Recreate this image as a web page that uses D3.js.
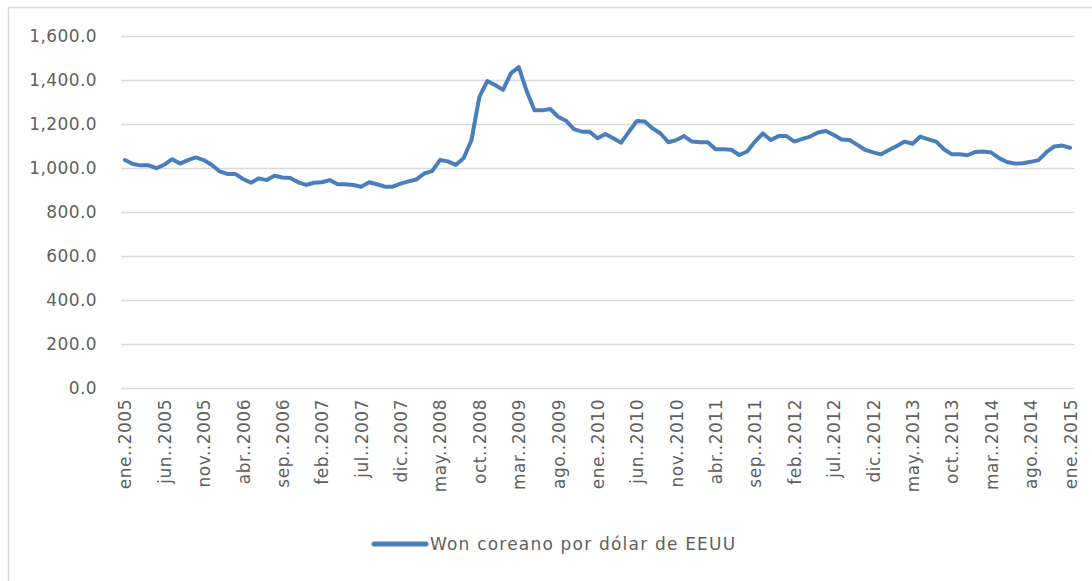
<!DOCTYPE html>
<html>
<head>
<meta charset="utf-8">
<script src="https://cdn.jsdelivr.net/npm/d3@7"></script>
<style>
  body { margin: 0; background: #fff; }
  text { font-family: "DejaVu Sans", sans-serif; fill: #5f5f5f; }
</style>
</head>
<body>
<script>
const width = 1092, height = 581;

const monthNames = ["ene.", "feb.", "mar.", "abr.", "may.", "jun.", "jul.", "ago.", "sep.", "oct.", "nov.", "dic."];
const years = [2005, 2006, 2007, 2008, 2009, 2010, 2011, 2012, 2013, 2014, 2015];

// won coreano por dolar, mensual ene 2005 - ene 2015
const won2005 = [1036, 1018, 1012, 1012, 999, 1015, 1040, 1020, 1036, 1048, 1036, 1015];
const won2006 = [985, 973, 973, 950, 933, 953, 945, 965, 957, 955, 935, 923];
const won2007 = [933, 935, 945, 926, 926, 923, 915, 935, 926, 915, 915, 929];
const won2008 = [939, 948, 975, 986, 1036, 1030, 1014, 1044, 1127, 1323, 1395, 1377];
const won2009 = [1355, 1430, 1459, 1350, 1262, 1262, 1268, 1233, 1215, 1177, 1165, 1165];
const won2010 = [1135, 1155, 1135, 1115, 1165, 1214, 1211, 1180, 1157, 1117, 1127, 1145];
const won2011 = [1120, 1117, 1117, 1085, 1085, 1083, 1059, 1075, 1120, 1157, 1127, 1145];
const won2012 = [1145, 1120, 1132, 1143, 1161, 1168, 1150, 1130, 1127, 1105, 1082, 1071];
const won2013 = [1062, 1082, 1100, 1120, 1110, 1143, 1130, 1120, 1085, 1062, 1062, 1058];
const won2014 = [1073, 1075, 1070, 1045, 1027, 1020, 1022, 1028, 1036, 1072, 1098, 1102];
const won2015 = [1092];

const values = [].concat(won2005, won2006, won2007, won2008, won2009, won2010,
  won2011, won2012, won2013, won2014, won2015);

const labels = values.map((v, i) => monthNames[i % 12] + "." + years[Math.floor(i / 12)]);

const yTicks = [0, 200, 400, 600, 800, 1000, 1200, 1400, 1600];
const seriesName = "Won coreano por dólar de EEUU";

const margin = {top: 36, right: 18, bottom: 193, left: 121};
const plotRight = 1074;

const svg = d3.select("body").append("svg")
    .attr("width", width)
    .attr("height", height);

// marco del grafico
svg.append("rect")
    .attr("x", 8.5).attr("y", 7.5)
    .attr("width", width + 10).attr("height", height + 10)
    .attr("fill", "none")
    .attr("stroke", "#d9d9d9")
    .attr("stroke-width", 1.5);

const x = d3.scalePoint()
    .domain(labels)
    .range([margin.left, plotRight])
    .padding(0.5);

const y = d3.scaleLinear()
    .domain([0, 1600])
    .range([388, margin.top]);

const fmt = d3.format(",.1f");

svg.append("g")
    .attr("transform", `translate(${margin.left},0)`)
    .call(d3.axisLeft(y).tickValues(yTicks).tickFormat(fmt).tickSize(0).tickPadding(24))
    .call(g => g.select(".domain").remove())
    .call(g => g.selectAll(".tick text")
        .attr("font-size", 17)
        .attr("letter-spacing", "0.4px")
        .attr("font-family", "DejaVu Sans, sans-serif")
        .attr("fill", "#5f5f5f"))
    .call(g => g.selectAll(".tick line").clone()
        .attr("x2", plotRight - margin.left)
        .attr("stroke", "#d9d9d9")
        .attr("stroke-width", 1.5));

svg.append("g")
    .attr("transform", "translate(0,388)")
    .call(d3.axisBottom(x)
        .tickValues(labels.filter((d, i) => i % 5 === 0))
        .tickSize(0).tickPadding(0))
    .call(g => g.select(".domain").remove())
    .call(g => g.selectAll(".tick text")
        .attr("font-size", 17)
        .attr("letter-spacing", "0.5px")
        .attr("font-family", "DejaVu Sans, sans-serif")
        .attr("fill", "#5f5f5f")
        .attr("text-anchor", "end")
        .attr("dy", "0.35em")
        .attr("transform", "translate(0,11) rotate(-90)"));

const line = d3.line()
    .x((d, i) => x(labels[i]))
    .y(d => y(d));

svg.append("path")
    .datum(values)
    .attr("fill", "none")
    .attr("stroke", "#4a7ebb")
    .attr("stroke-width", 4)
    .attr("stroke-linejoin", "round")
    .attr("stroke-linecap", "round")
    .attr("d", line);

// leyenda
const legend = svg.append("g").attr("transform", "translate(372,544)");
legend.append("line")
    .attr("x1", 2).attr("x2", 54)
    .attr("stroke", "#4a7ebb")
    .attr("stroke-width", 5)
    .attr("stroke-linecap", "round");
legend.append("text")
    .attr("x", 58)
    .attr("dy", "0.35em")
    .attr("font-size", 17)
    .attr("letter-spacing", "1.2px")
    .text(seriesName);
</script>
</body>
</html>
